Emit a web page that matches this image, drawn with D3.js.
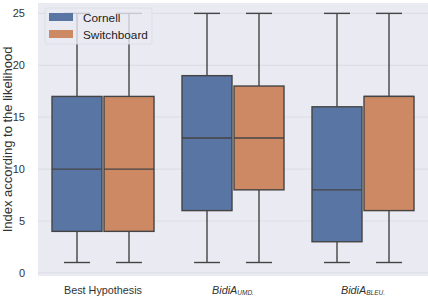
<!DOCTYPE html>
<html>
<head>
<meta charset="utf-8">
<script src="https://cdn.jsdelivr.net/npm/d3@7"></script>
<style>
body { margin: 0; background: #fff; }
text { font-family: "Liberation Sans", Arial, sans-serif; }
</style>
</head>
<body>
<script>
var w = 428, h = 296;
var margin = {top: 3, right: 0, bottom: 20, left: 38};

var categories = ["Best Hypothesis", "BidiA_UMD", "BidiA_BLEU"];
var series = ["Cornell", "Switchboard"];
var colors = ["#5975a4", "#cc8963"];
// [whiskerLow, q1, median, q3, whiskerHigh] for each category
var cornell = [[1, 4, 10, 17, 25], [1, 6, 13, 19, 25], [1, 3, 8, 16, 25]];
var switchboard = [[1, 4, 10, 17, 25], [1, 8, 13, 18, 25], [1, 6, 17, 17, 25]];
var yTicks = [0, 5, 10, 15, 20, 25];

var svg = d3.select("body").append("svg")
	.attr("width", w)
	.attr("height", h);

var xScale = d3.scaleBand()
	.domain(categories)
	.range([margin.left, w - margin.right]);

var hueScale = d3.scaleBand()
	.domain(series)
	.range([0, xScale.bandwidth() * 0.8]);

var yScale = d3.scaleLinear()
	.domain([-0.3, 26])
	.range([h - margin.bottom, margin.top]);

svg.append("rect")
	.attr("x", margin.left)
	.attr("y", margin.top)
	.attr("width", w - margin.left - margin.right)
	.attr("height", h - margin.bottom - margin.top)
	.attr("fill", "#eaeaf2");

svg.selectAll(".grid")
	.data(yTicks)
	.enter()
	.append("line")
	.attr("x1", margin.left)
	.attr("x2", w - margin.right)
	.attr("y1", function(d){ return yScale(d); })
	.attr("y2", function(d){ return yScale(d); })
	.attr("stroke", "#dedee6")
	.attr("stroke-width", 1.2);

svg.selectAll(".ytick")
	.data(yTicks)
	.enter()
	.append("text")
	.attr("x", 25)
	.attr("y", function(d){ return yScale(d) + 4; })
	.attr("text-anchor", "end")
	.attr("font-size", 11)
	.attr("fill", "#333")
	.text(function(d){ return d; });

svg.append("text")
	.attr("transform", "translate(11.5," + ((margin.top + h - margin.bottom) / 2) + ") rotate(-90)")
	.attr("text-anchor", "middle")
	.attr("font-size", 13)
	.attr("fill", "#333")
	.text("Index according to the likelihood");

var lineColor = "#444";
var data = [];
categories.forEach(function(c, i){
	data.push({cat: c, s: series[0], v: cornell[i], col: colors[0]});
	data.push({cat: c, s: series[1], v: switchboard[i], col: colors[1]});
});

var g = svg.selectAll(".box")
	.data(data)
	.enter()
	.append("g")
	.attr("transform", function(d){
		return "translate(" + (xScale(d.cat) + xScale.bandwidth() * 0.1 + hueScale(d.s)) + ",0)";
	});

var bw = hueScale.bandwidth();
var inset = 1;

g.append("line")
	.attr("x1", bw / 2).attr("x2", bw / 2)
	.attr("y1", function(d){ return yScale(d.v[0]); })
	.attr("y2", function(d){ return yScale(d.v[1]); })
	.attr("stroke", lineColor).attr("stroke-width", 1.4);
g.append("line")
	.attr("x1", bw / 2).attr("x2", bw / 2)
	.attr("y1", function(d){ return yScale(d.v[3]); })
	.attr("y2", function(d){ return yScale(d.v[4]); })
	.attr("stroke", lineColor).attr("stroke-width", 1.4);
g.selectAll(".cap")
	.data(function(d){ return [d.v[0], d.v[4]]; })
	.enter()
	.append("line")
	.attr("x1", bw / 4).attr("x2", bw * 3 / 4)
	.attr("y1", function(d){ return yScale(d); })
	.attr("y2", function(d){ return yScale(d); })
	.attr("stroke", lineColor).attr("stroke-width", 1.4);
g.append("rect")
	.attr("x", inset)
	.attr("width", bw - inset * 2)
	.attr("y", function(d){ return yScale(d.v[3]); })
	.attr("height", function(d){ return yScale(d.v[1]) - yScale(d.v[3]); })
	.attr("fill", function(d){ return d.col; })
	.attr("stroke", lineColor).attr("stroke-width", 1.4);
g.append("line")
	.attr("x1", inset).attr("x2", bw - inset)
	.attr("y1", function(d){ return yScale(d.v[2]); })
	.attr("y2", function(d){ return yScale(d.v[2]); })
	.attr("stroke", lineColor).attr("stroke-width", 1.4);

// x labels
var xl = svg.selectAll(".xlab")
	.data(categories)
	.enter()
	.append("text")
	.attr("x", function(d){ return xScale(d) + xScale.bandwidth() / 2; })
	.attr("y", 294)
	.attr("text-anchor", "middle")
	.attr("font-size", 10.8)
	.attr("fill", "#333");
xl.each(function(d){
	var t = d3.select(this);
	var parts = d.split("_");
	if (parts.length == 1) {
		t.text(d);
	} else {
		t.append("tspan").attr("font-style", "italic").text(parts[0]);
		t.append("tspan").attr("font-size", 6.5).attr("font-style", "italic").attr("dy", 1).text(parts[1] + ".");
	}
});

// legend
var lg = svg.append("g");
lg.append("rect")
	.attr("x", 45).attr("y", 8)
	.attr("width", 107).attr("height", 36)
	.attr("rx", 2)
	.attr("fill", "#eaeaf2").attr("fill-opacity", 0.8)
	.attr("stroke", "#dcdce4").attr("stroke-width", 0.8);
lg.selectAll(".lp")
	.data(series)
	.enter()
	.append("rect")
	.attr("x", 49)
	.attr("y", function(d, i){ return 13 + i * 17; })
	.attr("width", 24).attr("height", 8)
	.attr("fill", function(d, i){ return colors[i]; });
lg.selectAll(".lt")
	.data(series)
	.enter()
	.append("text")
	.attr("x", 83)
	.attr("y", function(d, i){ return 21.5 + i * 17; })
	.attr("font-size", 11.8)
	.attr("fill", "#222")
	.text(function(d){ return d; });
</script>
</body>
</html>
